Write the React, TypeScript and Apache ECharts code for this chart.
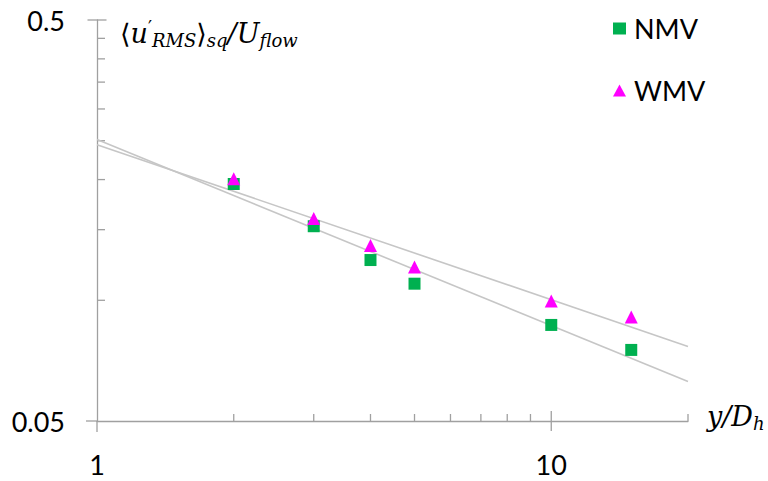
import React, { useEffect, useRef } from "react";
import * as echarts from "echarts";

// ---- data ----
const xValues = [2, 3, 4, 5, 10, 15];
const nmvValues = [0.195, 0.153, 0.126, 0.11, 0.0868, 0.0752];
const wmvValues = [0.201, 0.16, 0.137, 0.121, 0.0996, 0.0908];
const seriesNames = ["NMV", "WMV"];
const X_MIN = 1;
const X_MAX = 20;
const Y_MIN = 0.05;
const Y_MAX = 0.5;
const xLabelValues = [1, 10];
const yLabelValues = [0.05, 0.5];
const xMinorTicks = [2, 3, 4, 5, 6, 7, 8, 9, 20];
const yMinorTicks = [0.1, 0.15, 0.2, 0.25, 0.3, 0.35, 0.4, 0.45];
const trendX = [X_MIN, X_MAX];

const AXIS = "#a0a0a0";
const TREND = "#c6c6c6";
const GREEN = "#00B050";
const MAGENTA = "#FF00FF";
const FONT = "Lato";
const MATH = "DejaVu Serif";

function powerFit(xs: number[], ys: number[]) {
  const lx = xs.map((v) => Math.log10(v));
  const ly = ys.map((v) => Math.log10(v));
  const n = lx.length;
  const mx = lx.reduce((a, b) => a + b, 0) / n;
  const my = ly.reduce((a, b) => a + b, 0) / n;
  let sxy = 0;
  let sxx = 0;
  for (let i = 0; i < n; i++) {
    sxy += (lx[i] - mx) * (ly[i] - my);
    sxx += (lx[i] - mx) * (lx[i] - mx);
  }
  const m = sxy / sxx;
  const b = my - m * mx;
  return (x: number) => Math.pow(10, b + m * Math.log10(x));
}

function near(a: number, b: number) {
  return Math.abs(a - b) < 1e-6 * Math.max(1, Math.abs(b));
}

function tickSeries(data: number[][], size: number[], offset: number[]) {
  return {
    type: "scatter",
    data,
    symbol: "rect",
    symbolSize: size,
    symbolOffset: offset,
    itemStyle: { color: AXIS, opacity: 1 },
    silent: true,
    clip: false,
    z: 1,
  };
}

export default function App() {
  const ref = useRef<HTMLDivElement>(null);
  useEffect(() => {
    if (!ref.current) return;
    const chart = echarts.init(ref.current, null, { renderer: "svg" });
    const fitN = powerFit(xValues, nmvValues);
    const fitW = powerFit(xValues, wmvValues);
    const sub = { fontFamily: MATH, fontStyle: "italic", fontSize: 18, lineHeight: 17, verticalAlign: "bottom", color: "#000" };
    const ital = { fontFamily: MATH, fontStyle: "italic", fontSize: 27, lineHeight: 31, color: "#000" };
    const norm = { fontFamily: MATH, fontSize: 27, lineHeight: 31, color: "#000" };
    const prime = { fontFamily: MATH, fontSize: 18, lineHeight: 18, verticalAlign: "top", color: "#000" };
    chart.setOption({
      animation: false,
      grid: { left: 97, right: 80, top: 20, bottom: 60 },
      legend: {
        data: seriesNames,
        orient: "vertical",
        left: 608,
        top: 10,
        itemWidth: 13,
        itemHeight: 12,
        itemGap: 35,
        textStyle: { fontFamily: FONT, fontSize: 27, color: "#000", padding: [0, 0, 0, 3] },
        selectedMode: false,
      },
      xAxis: {
        type: "log",
        logBase: 10,
        min: X_MIN,
        max: X_MAX,
        splitLine: { show: false },
        axisTick: { show: false },
        axisLine: { show: true, lineStyle: { color: AXIS, width: 1.3 } },
        axisLabel: {
          margin: 30,
          fontFamily: FONT,
          fontSize: 27,
          color: "#000",
          showMinLabel: true,
          showMaxLabel: true,
          formatter: (v: number) => {
            const f = xLabelValues.find((t) => near(v, t));
            return f !== undefined ? String(f) : "";
          },
        },
      },
      yAxis: {
        type: "log",
        logBase: 10,
        min: Y_MIN,
        max: Y_MAX,
        splitLine: { show: false },
        axisTick: { show: false },
        axisLine: { show: true, lineStyle: { color: AXIS, width: 1.3 } },
        axisLabel: {
          margin: 32,
          fontFamily: FONT,
          fontSize: 27,
          color: "#000",
          showMinLabel: true,
          showMaxLabel: true,
          formatter: (v: number) => {
            const f = yLabelValues.find((t) => near(v, t));
            return f !== undefined ? String(f) : "";
          },
        },
      },
      graphic: [
        {
          type: "text",
          left: 120,
          top: 18,
          style: {
            text: "{n|⟨}{i|u}{p|′}{s|RMS}{n|⟩}{s|sq}{i|/U}{s|flow}",
            rich: { n: norm, i: ital, s: sub, p: prime },
          },
        },
        {
          type: "text",
          left: 707,
          top: 403,
          style: {
            text: "{i|y/D}{s|h}",
            rich: { i: ital, s: sub },
          },
        },
      ],
      series: [
        tickSeries(xMinorTicks.map((v) => [v, Y_MIN]), [1.3, 7], [0, -3.5]),
        tickSeries([[10, Y_MIN]], [1.3, 20], [0, 0]),
        tickSeries([[X_MIN, Y_MIN]], [11, 1.3], [-5.5, 0]),
        tickSeries([[X_MIN, Y_MIN]], [1.3, 11], [0, 5.5]),
        tickSeries(yMinorTicks.map((v) => [X_MIN, v]), [8, 1.3], [4, 0]),
        tickSeries([[X_MIN, Y_MAX]], [19, 1.3], [0, 0]),
        {
          type: "line",
          data: trendX.map((x) => [x, fitN(x)]),
          showSymbol: false,
          symbol: "none",
          lineStyle: { color: TREND, width: 1.6 },
          silent: true,
          z: 2,
        },
        {
          type: "line",
          data: trendX.map((x) => [x, fitW(x)]),
          showSymbol: false,
          symbol: "none",
          lineStyle: { color: TREND, width: 1.6 },
          silent: true,
          z: 2,
        },
        {
          name: seriesNames[0],
          type: "scatter",
          data: xValues.map((x, i) => [x, nmvValues[i]]),
          symbol: "rect",
          symbolSize: 12,
          itemStyle: { color: GREEN, opacity: 1 },
          z: 3,
        },
        {
          name: seriesNames[1],
          type: "scatter",
          data: xValues.map((x, i) => [x, wmvValues[i]]),
          symbol: "triangle",
          symbolSize: 13,
          itemStyle: { color: MAGENTA, opacity: 1 },
          z: 4,
        },
      ],
    });
    return () => chart.dispose();
  }, []);
  return (
    <div
      ref={ref}
      style={{ position: "absolute", left: 0, top: 0, width: 768, height: 481, background: "#fff" }}
    />
  );
}
